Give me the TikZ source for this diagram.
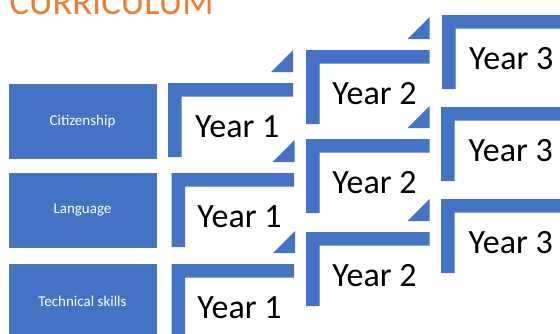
\documentclass[tikz,border=0pt]{standalone}
\usepackage{fontspec}
\setmainfont{Carlito}
\definecolor{accblue}{HTML}{4472C4}
\definecolor{accorange}{HTML}{ED7D31}
\definecolor{boxedge}{HTML}{5A74AC}
% #1 x, #2 y (top-left), #3 right end, #4 node name, #5 label
\newcommand\curstep[5]{%
  \fill[accblue] (#1,#2) -- (#3,#2) -- (#3,#2+13.5) -- (#1+13.5,#2+13.5)
     -- (#1+13.5,#2+74) -- (#1,#2+74) -- cycle;
  \node[yearlabel] (#4) at ({(#1+13.5+#3)/2},{#2+43.75}) {#5};
}
% #1 right end, #2 y (top of step)
\newcommand\curtri[2]{%
  \fill[accblue] (#1-22,#2-11) -- (#1,#2-11) -- (#1,#2-33) -- cycle;
}
\begin{document}
\begin{tikzpicture}[x=1pt,y=-1pt,
  yearlabel/.style={inner sep=0pt, font=\fontsize{34}{40}\selectfont, text=black},
  catbox/.style={draw=boxedge, line width=0.7pt, fill=accblue, minimum width=147pt,
    minimum height=74pt, inner sep=0pt, text=white, font=\fontsize{15}{18}\selectfont},
  titletext/.style={inner sep=0pt, anchor=base west, text=accorange,
    font=\fontsize{36.5}{40}\selectfont}]
\useasboundingbox (0,0) rectangle (560,333);
\clip (0,0) rectangle (560,333);
\fill[white] (0,0) rectangle (560,333);

\node[titletext] (title) at (9.5,14.5) {CURRICULUM};

\node[catbox] (cit) at (82.5,121) {Citizenship};
\node[catbox] (lang) at (82.5,210) {Language};
\node[catbox] (tech) at (82.5,301) {Technical skills};

% row 1
\curstep{168}{83}{293}{c1}{Year 1}
\curtri{293}{83}
\curstep{306}{50}{429.5}{c2}{Year 2}
\curtri{429.5}{50}
\curstep{442}{15}{567}{c3}{Year 3}

% row 2
\curstep{171.5}{173}{294}{l1}{Year 1}
\curtri{294.5}{173}
\curstep{306}{139}{429.5}{l2}{Year 2}
\curtri{429.5}{139}
\curstep{441}{107}{567}{l3}{Year 3}

% row 3
\curstep{171.5}{264}{294}{t1}{Year 1}
\curtri{295}{264}
\curstep{306}{232}{429.5}{t2}{Year 2}
\curtri{429.5}{232}
\curstep{441}{199}{567}{t3}{Year 3}
\end{tikzpicture}
\end{document}
